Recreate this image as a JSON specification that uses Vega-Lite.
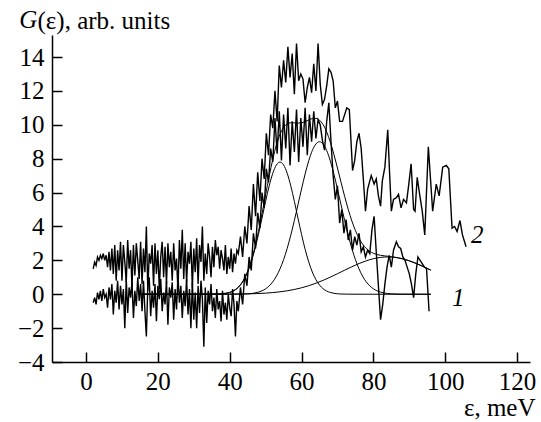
{
"$schema":"https://vega.github.io/schema/vega-lite/v6.json",
"width":478,"height":327,
"autosize":{"type":"none"},
"padding":{"left":52,"top":35,"right":11,"bottom":60},
"background":"white",
"config":{"view":{"stroke":null},"axis":{"labelFont":"Liberation Serif","titleFont":"Liberation Serif"},"text":{"font":"Liberation Serif"}},
"datasets":{
"c1":[{"x":2.0,"y":-0.5},{"x":2.4,"y":-0.2},{"x":2.8,"y":-0.6},{"x":3.2,"y":0.1},{"x":3.6,"y":-0.3},{"x":4.0,"y":0.2},{"x":4.4,"y":-0.4},{"x":4.8,"y":0.3},{"x":5.2,"y":-0.2},{"x":5.6,"y":0.0},{"x":6.0,"y":-0.8},{"x":6.4,"y":0.4},{"x":6.8,"y":-0.3},{"x":7.2,"y":0.6},{"x":7.6,"y":-1.2},{"x":8.0,"y":0.2},{"x":8.4,"y":-0.5},{"x":8.8,"y":0.8},{"x":9.2,"y":-0.9},{"x":9.6,"y":0.5},{"x":10.0,"y":-0.6},{"x":10.4,"y":0.3},{"x":10.8,"y":-2.0},{"x":11.2,"y":0.9},{"x":11.6,"y":-1.1},{"x":12.0,"y":0.4},{"x":12.4,"y":-0.2},{"x":12.8,"y":0.7},{"x":13.2,"y":-1.4},{"x":13.6,"y":0.2},{"x":14.0,"y":-0.7},{"x":14.4,"y":1.0},{"x":14.8,"y":-0.4},{"x":15.2,"y":0.6},{"x":15.6,"y":-1.0},{"x":16.0,"y":0.8},{"x":16.4,"y":-1.0},{"x":16.8,"y":-2.5},{"x":17.2,"y":0.5},{"x":17.6,"y":1.0},{"x":18.0,"y":-1.3},{"x":18.4,"y":0.2},{"x":18.8,"y":-0.8},{"x":19.2,"y":0.6},{"x":19.6,"y":-1.6},{"x":20.0,"y":0.5},{"x":20.4,"y":-0.3},{"x":20.8,"y":0.9},{"x":21.2,"y":-1.0},{"x":21.6,"y":0.1},{"x":22.0,"y":-0.6},{"x":22.4,"y":0.8},{"x":22.8,"y":-1.8},{"x":23.2,"y":0.4},{"x":23.6,"y":-0.2},{"x":24.0,"y":0.7},{"x":24.4,"y":-1.5},{"x":24.8,"y":0.3},{"x":25.2,"y":-0.9},{"x":25.6,"y":1.1},{"x":26.0,"y":-0.5},{"x":26.4,"y":0.5},{"x":26.8,"y":-1.4},{"x":27.2,"y":0.2},{"x":27.6,"y":-0.7},{"x":28.0,"y":0.9},{"x":28.4,"y":-1.2},{"x":28.8,"y":0.3},{"x":29.2,"y":-2.0},{"x":29.6,"y":0.7},{"x":30.0,"y":-1.5},{"x":30.4,"y":0.1},{"x":30.8,"y":-2.0},{"x":31.2,"y":0.5},{"x":31.6,"y":-1.1},{"x":32.0,"y":0.8},{"x":32.4,"y":-0.3},{"x":32.8,"y":-3.1},{"x":33.2,"y":0.4},{"x":33.6,"y":-1.7},{"x":34.0,"y":0.2},{"x":34.4,"y":-0.6},{"x":34.8,"y":0.6},{"x":35.2,"y":-1.0},{"x":35.6,"y":-0.2},{"x":36.0,"y":-1.4},{"x":36.4,"y":0.3},{"x":36.8,"y":-0.9},{"x":37.2,"y":-0.4},{"x":37.6,"y":-1.6},{"x":38.0,"y":0.2},{"x":38.4,"y":-1.2},{"x":38.8,"y":-0.5},{"x":39.2,"y":-1.5},{"x":39.6,"y":0.0},{"x":40.0,"y":-0.8},{"x":40.4,"y":-1.3},{"x":40.8,"y":0.3},{"x":41.2,"y":-0.6},{"x":41.6,"y":-2.5},{"x":42.0,"y":-0.4},
{"x":42.4,"y":-1.0},{"x":43.0,"y":0.4},{"x":43.6,"y":-0.6},{"x":44.2,"y":1.2},{"x":44.8,"y":0.5},{"x":45.4,"y":2.2},{"x":46.0,"y":1.4},{"x":46.6,"y":3.6},{"x":47.2,"y":2.7},{"x":47.8,"y":4.8},{"x":48.4,"y":3.9},{"x":49.0,"y":6.0},{"x":49.6,"y":5.1},{"x":50.2,"y":7.4},{"x":50.8,"y":6.6},{"x":51.4,"y":8.6},{"x":52.0,"y":7.8},{"x":52.6,"y":10.4},{"x":53.2,"y":8.3},{"x":53.8,"y":10.8},{"x":54.4,"y":7.9},{"x":55.0,"y":10.6},{"x":55.6,"y":8.6},{"x":56.2,"y":11.0},{"x":56.8,"y":7.6},{"x":57.4,"y":10.2},{"x":58.0,"y":8.4},{"x":58.6,"y":10.9},{"x":59.2,"y":7.8},{"x":59.8,"y":10.4},{"x":60.4,"y":8.7},{"x":61.0,"y":11.0},{"x":61.6,"y":8.2},{"x":62.2,"y":10.6},{"x":62.8,"y":9.0},{"x":63.4,"y":10.8},{"x":64.0,"y":9.2},{"x":64.6,"y":10.3},{"x":65.2,"y":10.0},{"x":65.8,"y":9.1},{"x":66.4,"y":8.5},{"x":67.0,"y":10.2},{"x":67.6,"y":11.3},{"x":68.2,"y":9.0},{"x":68.8,"y":7.0},{"x":69.4,"y":5.6},{"x":70.0,"y":6.4},{"x":70.6,"y":4.2},{"x":71.2,"y":5.0},{"x":71.8,"y":3.6},{"x":72.4,"y":4.4},{"x":73.0,"y":3.2},{"x":73.6,"y":3.8},{"x":74.2,"y":2.6},{"x":74.8,"y":3.4},{"x":75.4,"y":2.9},{"x":76.0,"y":3.6},{"x":76.6,"y":2.5},{"x":77.2,"y":2.8},{"x":77.8,"y":2.2},{"x":78.4,"y":2.6},{"x":79.0,"y":2.4},{"x":79.6,"y":3.8},{"x":80.2,"y":4.6},{"x":80.8,"y":2.5},{"x":81.4,"y":0.5},{"x":82.0,"y":-1.5},{"x":82.6,"y":-0.6},{"x":83.2,"y":0.6},{"x":83.8,"y":1.6},{"x":84.4,"y":2.3},{"x":85.0,"y":1.6},{"x":85.6,"y":2.6},{"x":86.4,"y":3.1},{"x":87.0,"y":2.8},{"x":87.6,"y":2.7},{"x":88.2,"y":2.2},{"x":88.8,"y":2.0},{"x":89.4,"y":1.6},{"x":90.0,"y":1.2},{"x":90.6,"y":0.6},{"x":91.2,"y":-0.2},{"x":91.8,"y":1.2},{"x":92.4,"y":2.2},{"x":93.0,"y":2.0},{"x":93.6,"y":1.8},{"x":94.2,"y":1.6},{"x":94.8,"y":1.5},{"x":95.5,"y":-1.0}],
"c2":[{"x":2.0,"y":1.5},{"x":2.4,"y":1.9},{"x":2.8,"y":1.7},{"x":3.2,"y":2.2},{"x":3.6,"y":2.0},{"x":4.0,"y":2.3},{"x":4.4,"y":2.1},{"x":4.8,"y":2.4},{"x":5.2,"y":2.0},{"x":5.6,"y":2.3},{"x":6.0,"y":1.6},{"x":6.4,"y":2.5},{"x":6.8,"y":1.4},{"x":7.2,"y":2.7},{"x":7.6,"y":1.2},{"x":8.0,"y":2.9},{"x":8.4,"y":0.8},{"x":8.8,"y":2.6},{"x":9.2,"y":1.4},{"x":9.6,"y":3.1},{"x":10.0,"y":0.8},{"x":10.4,"y":2.9},{"x":10.8,"y":1.9},{"x":11.2,"y":0.7},{"x":11.6,"y":3.2},{"x":12.0,"y":1.5},{"x":12.4,"y":2.6},{"x":12.8,"y":0.4},{"x":13.2,"y":2.9},{"x":13.6,"y":1.1},{"x":14.0,"y":3.0},{"x":14.4,"y":2.0},{"x":14.8,"y":0.9},{"x":15.2,"y":3.1},{"x":15.6,"y":0.6},{"x":16.0,"y":2.7},{"x":16.4,"y":1.3},{"x":16.8,"y":4.0},{"x":17.2,"y":0.2},{"x":17.6,"y":2.4},{"x":18.0,"y":1.8},{"x":18.4,"y":2.9},{"x":18.8,"y":0.5},{"x":19.2,"y":3.0},{"x":19.6,"y":1.2},{"x":20.0,"y":2.6},{"x":20.4,"y":0.3},{"x":20.8,"y":2.2},{"x":21.2,"y":3.1},{"x":21.6,"y":1.0},{"x":22.0,"y":2.8},{"x":22.4,"y":0.6},{"x":22.8,"y":3.0},{"x":23.2,"y":1.6},{"x":23.6,"y":2.5},{"x":24.0,"y":0.8},{"x":24.4,"y":3.0},{"x":24.8,"y":1.4},{"x":25.2,"y":2.1},{"x":25.6,"y":0.2},{"x":26.0,"y":3.2},{"x":26.4,"y":1.5},{"x":26.8,"y":3.8},{"x":27.2,"y":0.9},{"x":27.6,"y":3.0},{"x":28.0,"y":0.7},{"x":28.4,"y":2.5},{"x":28.8,"y":1.8},{"x":29.2,"y":3.1},{"x":29.6,"y":0.4},{"x":30.0,"y":2.7},{"x":30.4,"y":1.3},{"x":30.8,"y":3.3},{"x":31.2,"y":0.6},{"x":31.6,"y":2.9},{"x":32.0,"y":1.9},{"x":32.4,"y":4.0},{"x":32.8,"y":0.8},{"x":33.2,"y":2.4},{"x":33.6,"y":1.2},{"x":34.0,"y":3.0},{"x":34.4,"y":2.2},{"x":34.8,"y":1.0},{"x":35.2,"y":2.8},{"x":35.6,"y":1.6},{"x":36.0,"y":3.2},{"x":36.4,"y":2.3},{"x":36.8,"y":2.8},{"x":37.2,"y":1.5},{"x":37.6,"y":2.6},{"x":38.0,"y":2.1},{"x":38.4,"y":1.4},{"x":38.8,"y":2.9},{"x":39.2,"y":1.2},{"x":39.6,"y":2.2},{"x":40.0,"y":1.5},{"x":40.4,"y":2.7},{"x":40.8,"y":1.3},{"x":41.2,"y":2.4},{"x":41.6,"y":1.8},{"x":42.0,"y":2.6},
{"x":42.4,"y":2.4},{"x":43.0,"y":3.4},{"x":43.6,"y":2.2},{"x":44.2,"y":4.0},{"x":44.8,"y":3.0},{"x":45.4,"y":5.2},{"x":46.0,"y":3.8},{"x":46.6,"y":6.5},{"x":47.2,"y":4.6},{"x":47.8,"y":7.2},{"x":48.4,"y":5.5},{"x":49.0,"y":8.0},{"x":49.6,"y":6.8},{"x":50.2,"y":9.5},{"x":50.8,"y":8.2},{"x":51.4,"y":10.6},{"x":52.0,"y":9.8},{"x":52.6,"y":12.0},{"x":53.2,"y":10.2},{"x":53.8,"y":13.5},{"x":54.4,"y":12.2},{"x":55.0,"y":13.8},{"x":55.6,"y":12.5},{"x":56.2,"y":14.6},{"x":56.8,"y":12.8},{"x":57.4,"y":14.2},{"x":58.0,"y":11.8},{"x":58.6,"y":14.8},{"x":59.2,"y":12.6},{"x":59.8,"y":13.0},{"x":60.4,"y":12.7},{"x":61.0,"y":11.3},{"x":61.6,"y":12.2},{"x":62.2,"y":12.8},{"x":62.8,"y":11.9},{"x":63.4,"y":13.6},{"x":64.0,"y":12.0},{"x":64.6,"y":14.8},{"x":65.2,"y":12.4},{"x":65.8,"y":11.2},{"x":66.4,"y":11.5},{"x":67.0,"y":12.3},{"x":67.6,"y":13.3},{"x":68.2,"y":13.1},{"x":68.8,"y":12.6},{"x":69.4,"y":11.0},{"x":70.0,"y":11.4},{"x":70.6,"y":10.2},{"x":71.4,"y":10.2},{"x":72.0,"y":10.6},{"x":72.6,"y":11.0},{"x":73.3,"y":10.9},{"x":74.2,"y":7.3},{"x":74.8,"y":7.9},{"x":75.4,"y":9.0},{"x":76.0,"y":9.5},{"x":76.6,"y":8.6},{"x":77.2,"y":6.8},{"x":77.8,"y":4.9},{"x":78.4,"y":6.2},{"x":79.4,"y":7.0},{"x":80.2,"y":6.5},{"x":80.8,"y":6.8},{"x":81.4,"y":5.8},{"x":82.0,"y":5.2},{"x":82.5,"y":6.7},{"x":83.2,"y":7.5},{"x":84.0,"y":9.7},{"x":84.5,"y":7.2},{"x":85.0,"y":4.9},{"x":85.6,"y":5.6},{"x":86.4,"y":5.7},{"x":87.0,"y":5.9},{"x":87.7,"y":5.1},{"x":88.4,"y":5.6},{"x":89.2,"y":5.4},{"x":89.8,"y":6.4},{"x":90.5,"y":7.7},{"x":91.2,"y":5.0},{"x":91.6,"y":4.9},{"x":92.2,"y":6.9},{"x":92.8,"y":6.0},{"x":93.6,"y":4.9},{"x":94.3,"y":3.5},{"x":95.3,"y":8.7},{"x":96.5,"y":4.9},{"x":97.5,"y":6.5},{"x":98.3,"y":5.8},{"x":99.3,"y":7.5},{"x":100.3,"y":7.6},{"x":101.0,"y":7.4},{"x":101.9,"y":3.9},{"x":102.6,"y":4.0},{"x":103.3,"y":3.7},{"x":104.1,"y":4.35},{"x":104.8,"y":3.5},{"x":105.8,"y":2.8}],
"fits":[
{"k":"g1","x":15,"y":0},{"k":"g1","x":30,"y":0},{"k":"g1","x":35,"y":0.003},{"k":"g1","x":37,"y":0.013},{"k":"g1","x":38,"y":0.028},{"k":"g1","x":39,"y":0.055},{"k":"g1","x":40,"y":0.104},{"k":"g1","x":41,"y":0.189},{"k":"g1","x":42,"y":0.327},{"k":"g1","x":43,"y":0.543},{"k":"g1","x":44,"y":0.862},{"k":"g1","x":45,"y":1.31},{"k":"g1","x":46,"y":1.905},{"k":"g1","x":47,"y":2.65},{"k":"g1","x":48,"y":3.53},{"k":"g1","x":49,"y":4.497},{"k":"g1","x":50,"y":5.483},{"k":"g1","x":51,"y":6.398},{"k":"g1","x":52,"y":7.142},{"k":"g1","x":53,"y":7.63},{"k":"g1","x":54,"y":7.8},{"k":"g1","x":55,"y":7.63},{"k":"g1","x":56,"y":7.142},{"k":"g1","x":57,"y":6.398},{"k":"g1","x":58,"y":5.483},{"k":"g1","x":59,"y":4.497},{"k":"g1","x":60,"y":3.53},{"k":"g1","x":61,"y":2.65},{"k":"g1","x":62,"y":1.905},{"k":"g1","x":63,"y":1.31},{"k":"g1","x":64,"y":0.862},{"k":"g1","x":65,"y":0.543},{"k":"g1","x":66,"y":0.327},{"k":"g1","x":67,"y":0.189},{"k":"g1","x":68,"y":0.104},{"k":"g1","x":69,"y":0.055},{"k":"g1","x":70,"y":0.028},{"k":"g1","x":71,"y":0.013},{"k":"g1","x":73,"y":0.003},{"k":"g1","x":78,"y":0},{"k":"g1","x":96,"y":0},
{"k":"g2","x":15,"y":0},{"k":"g2","x":40,"y":0.001},{"k":"g2","x":44,"y":0.013},{"k":"g2","x":46,"y":0.042},{"k":"g2","x":47,"y":0.074},{"k":"g2","x":48,"y":0.124},{"k":"g2","x":49,"y":0.202},{"k":"g2","x":50,"y":0.32},{"k":"g2","x":51,"y":0.491},{"k":"g2","x":52,"y":0.733},{"k":"g2","x":53,"y":1.063},{"k":"g2","x":54,"y":1.495},{"k":"g2","x":55,"y":2.041},{"k":"g2","x":56,"y":2.705},{"k":"g2","x":57,"y":3.482},{"k":"g2","x":58,"y":4.351},{"k":"g2","x":59,"y":5.276},{"k":"g2","x":60,"y":6.211},{"k":"g2","x":61,"y":7.098},{"k":"g2","x":62,"y":7.875},{"k":"g2","x":63,"y":8.482},{"k":"g2","x":64,"y":8.867},{"k":"g2","x":65,"y":9},{"k":"g2","x":66,"y":8.867},{"k":"g2","x":67,"y":8.482},{"k":"g2","x":68,"y":7.875},{"k":"g2","x":69,"y":7.098},{"k":"g2","x":70,"y":6.211},{"k":"g2","x":71,"y":5.276},{"k":"g2","x":72,"y":4.351},{"k":"g2","x":73,"y":3.482},{"k":"g2","x":74,"y":2.705},{"k":"g2","x":75,"y":2.041},{"k":"g2","x":76,"y":1.495},{"k":"g2","x":77,"y":1.063},{"k":"g2","x":78,"y":0.733},{"k":"g2","x":79,"y":0.491},{"k":"g2","x":80,"y":0.32},{"k":"g2","x":81,"y":0.202},{"k":"g2","x":82,"y":0.124},{"k":"g2","x":83,"y":0.074},{"k":"g2","x":84,"y":0.042},{"k":"g2","x":86,"y":0.013},{"k":"g2","x":88,"y":0.004},{"k":"g2","x":92,"y":0},{"k":"g2","x":96,"y":0},
{"k":"g3","x":15,"y":0},{"k":"g3","x":30,"y":0},{"k":"g3","x":40,"y":0.006},{"k":"g3","x":45,"y":0.021},{"k":"g3","x":50,"y":0.065},{"k":"g3","x":52,"y":0.097},{"k":"g3","x":54,"y":0.142},{"k":"g3","x":56,"y":0.202},{"k":"g3","x":58,"y":0.28},{"k":"g3","x":60,"y":0.38},{"k":"g3","x":62,"y":0.503},{"k":"g3","x":64,"y":0.65},{"k":"g3","x":66,"y":0.819},{"k":"g3","x":68,"y":1.008},{"k":"g3","x":70,"y":1.21},{"k":"g3","x":72,"y":1.418},{"k":"g3","x":74,"y":1.622},{"k":"g3","x":76,"y":1.81},{"k":"g3","x":78,"y":1.971},{"k":"g3","x":80,"y":2.095},{"k":"g3","x":82,"y":2.173},{"k":"g3","x":84,"y":2.2},{"k":"g3","x":86,"y":2.173},{"k":"g3","x":88,"y":2.095},{"k":"g3","x":90,"y":1.971},{"k":"g3","x":92,"y":1.81},{"k":"g3","x":94,"y":1.622},{"k":"g3","x":96,"y":1.418},
{"k":"s","x":15,"y":0},{"k":"s","x":30,"y":0},{"k":"s","x":35,"y":0.006},{"k":"s","x":37,"y":0.016},{"k":"s","x":38,"y":0.032},{"k":"s","x":39,"y":0.061},{"k":"s","x":40,"y":0.111},{"k":"s","x":41,"y":0.199},{"k":"s","x":42,"y":0.341},{"k":"s","x":43,"y":0.563},{"k":"s","x":44,"y":0.891},{"k":"s","x":45,"y":1.354},{"k":"s","x":46,"y":1.974},{"k":"s","x":47,"y":2.758},{"k":"s","x":48,"y":3.696},{"k":"s","x":49,"y":4.752},{"k":"s","x":50,"y":5.868},{"k":"s","x":51,"y":6.969},{"k":"s","x":52,"y":7.972},{"k":"s","x":53,"y":8.81},{"k":"s","x":54,"y":9.437},{"k":"s","x":55,"y":9.84},{"k":"s","x":56,"y":10.049},{"k":"s","x":57,"y":10.118},{"k":"s","x":58,"y":10.114},{"k":"s","x":59,"y":10.1},{"k":"s","x":60,"y":10.121},{"k":"s","x":61,"y":10.186},{"k":"s","x":62,"y":10.283},{"k":"s","x":63,"y":10.365},{"k":"s","x":64,"y":10.379},{"k":"s","x":65,"y":10.275},{"k":"s","x":66,"y":10.013},{"k":"s","x":67,"y":9.582},{"k":"s","x":68,"y":8.987},{"k":"s","x":69,"y":8.261},{"k":"s","x":70,"y":7.449},{"k":"s","x":71,"y":6.603},{"k":"s","x":72,"y":5.775},{"k":"s","x":73,"y":5.006},{"k":"s","x":74,"y":4.327},{"k":"s","x":75,"y":3.76},{"k":"s","x":76,"y":3.305},{"k":"s","x":77,"y":2.958},{"k":"s","x":78,"y":2.704},{"k":"s","x":79,"y":2.53},{"k":"s","x":80,"y":2.415},{"k":"s","x":81,"y":2.343},{"k":"s","x":82,"y":2.297},{"k":"s","x":83,"y":2.267},{"k":"s","x":84,"y":2.242},{"k":"s","x":85,"y":2.217},{"k":"s","x":86,"y":2.186},{"k":"s","x":87,"y":2.148},{"k":"s","x":88,"y":2.099},{"k":"s","x":89,"y":2.039},{"k":"s","x":90,"y":1.971},{"k":"s","x":91,"y":1.895},{"k":"s","x":92,"y":1.81},{"k":"s","x":93,"y":1.719},{"k":"s","x":94,"y":1.622},{"k":"s","x":95,"y":1.521},{"k":"s","x":96,"y":1.418}],
"labels":[{"x":103.6,"y":-0.2,"t":"1"},{"x":108.9,"y":3.5,"t":"2"}],
"gsym":[{"x":-18.6,"y":15.72,"t":"G"}]
},
"encoding":{
"x":{"field":"x","type":"quantitative","scale":{"domain":[-9.47,123.6],"nice":false,"zero":false},
"axis":{"values":[0,20,40,60,80,100,120],"grid":false,"tickSize":-10,"tickWidth":1.5,"tickColor":"black","domainColor":"black","domainWidth":1.5,"labelPadding":17,"labelFontSize":25,"labelColor":"black","labelOverlap":false,"labelFlush":false,
"title":"ε, meV","titleFontSize":25,"titleFontWeight":"normal","titleColor":"black","titleAlign":"right","titleBaseline":"alphabetic","titleX":483,"titleY":53}},
"y":{"field":"y","type":"quantitative","scale":{"domain":[-4,15.3],"nice":false,"zero":false},
"axis":{"values":[-4,-2,0,2,4,6,8,10,12,14],"grid":false,"tickSize":-10,"tickWidth":1.5,"tickColor":"black","domainColor":"black","domainWidth":1.5,"labelPadding":18,"labelFontSize":25,"labelColor":"black","labelOverlap":false,"labelFlush":false,
"title":"(ε), arb. units","titleFontSize":25,"titleFontWeight":"normal","titleColor":"black","titleAngle":0,"titleAlign":"left","titleBaseline":"alphabetic","titleX":-15,"titleY":-7}}
},
"layer":[
{"data":{"name":"fits"},"mark":{"type":"line","color":"black","strokeWidth":1,"interpolate":"monotone"},"encoding":{"detail":{"field":"k"}}},
{"data":{"name":"c1"},"mark":{"type":"line","color":"black","strokeWidth":1.4},"encoding":{}},
{"data":{"name":"c2"},"mark":{"type":"line","color":"black","strokeWidth":1.4},"encoding":{}},
{"data":{"name":"labels"},"mark":{"type":"text","font":"Liberation Serif","fontSize":25,"fontStyle":"italic","color":"black","align":"center","baseline":"middle"},"encoding":{"text":{"field":"t"}}},
{"data":{"name":"gsym"},"mark":{"type":"text","font":"Liberation Serif","fontSize":25,"fontStyle":"italic","color":"black","align":"left","baseline":"alphabetic","clip":false},"encoding":{"text":{"field":"t"}}}
]
}
